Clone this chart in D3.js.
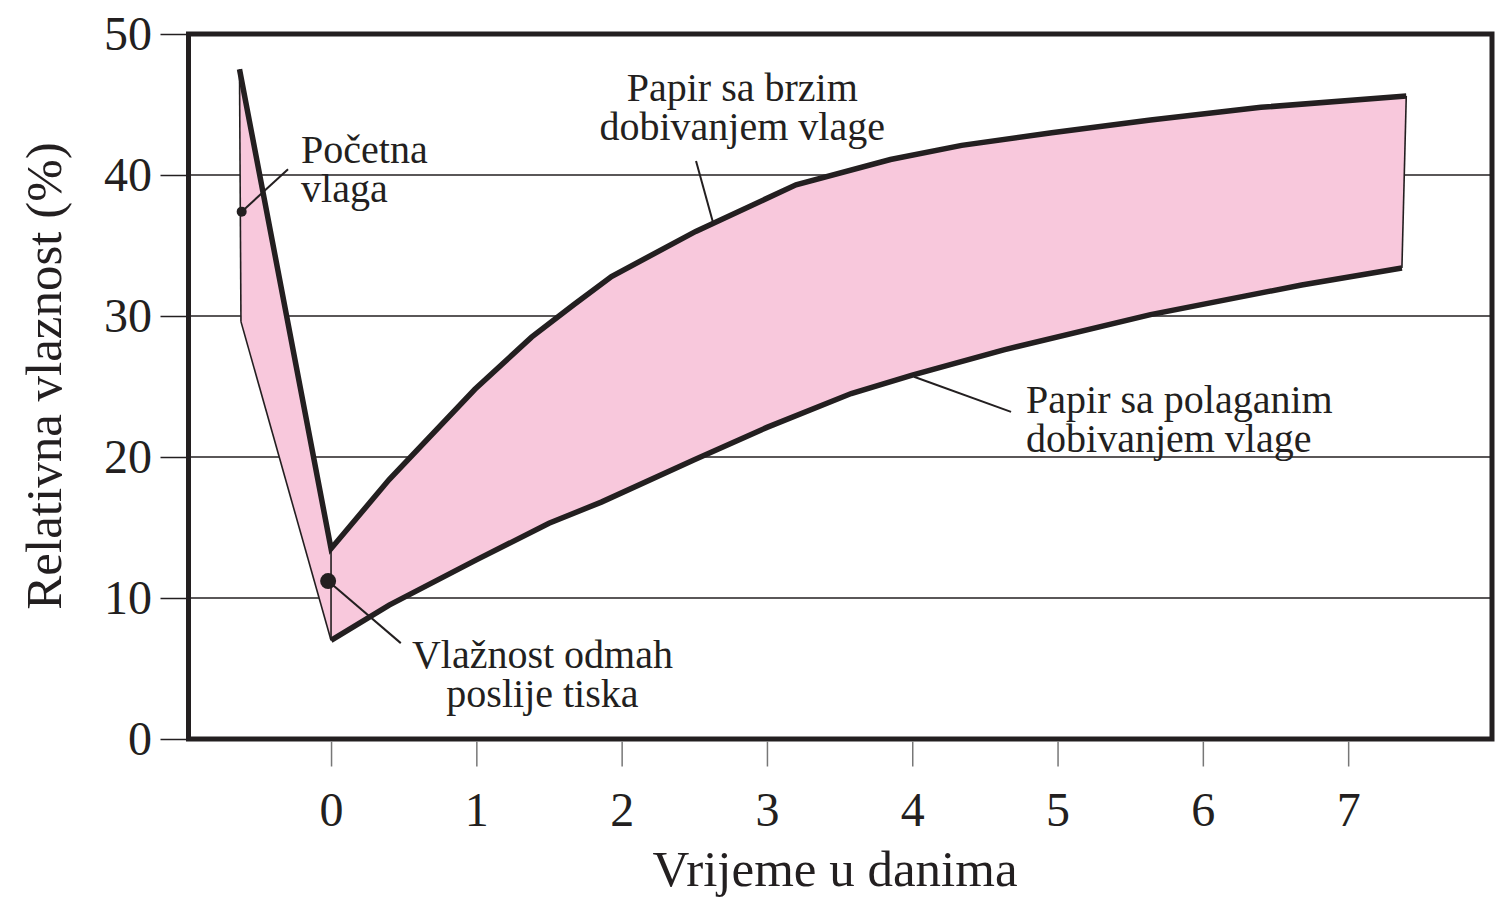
<!DOCTYPE html>
<html>
<head>
<meta charset="utf-8">
<script src="https://cdn.jsdelivr.net/npm/d3@7"></script>
<style>
  body { margin: 0; background: #fff; }
  text { font-family: 'Liberation Serif', 'Times New Roman', serif; fill: #231f20; }
</style>
</head>
<body>
<script>
// Papir sa brzim dobivanjem vlage (upper edge of band) - [day, %]
const fastPaper = [
  [-0.63, 47.5], [0, 13.5], [0.4, 18.4], [0.99, 24.8], [1.38, 28.5],
  [1.67, 30.8], [1.93, 32.8], [2.51, 36.0], [3.2, 39.3], [3.85, 41.1],
  [4.34, 42.1], [4.96, 43.0], [5.64, 43.9], [6.4, 44.8], [7.4, 45.6],
];

// Papir sa polaganim dobivanjem vlage (lower edge of band)
const slowPaper = [
  [-0.62, 29.6], [0, 7.0], [0.4, 9.5], [1.0, 12.7], [1.5, 15.3],
  [1.86, 16.8], [2.5, 19.8], [3.0, 22.1], [3.58, 24.5], [4.0, 25.8],
  [4.63, 27.6], [5.64, 30.1], [6.68, 32.2], [7.37, 33.4],
];

// marked points
const initialMoisture = [-0.615, 37.4];
const afterPrint = [-0.02, 11.2];

// tick values
const xTicks = [0, 1, 2, 3, 4, 5, 6, 7];
const yTicks = [0, 10, 20, 30, 40, 50];
const gridValues = [10, 20, 30, 40];

// annotations: leader line [from, to] and text lines
const notes = [
  { from: [-0.615, 37.4], to: [-0.296, 40.4], anchor: 'start', at: [-0.206, 40.85], lines: ['Početna', 'vlaga'] },
  { from: [2.627, 36.7], to: [2.512, 41.0], anchor: 'middle', at: [2.83, 45.23], lines: ['Papir sa brzim', 'dobivanjem vlage'] },
  { from: [4.012, 25.69], to: [4.68, 23.2], anchor: 'start', at: [4.783, 23.1], lines: ['Papir sa polaganim', 'dobivanjem vlage'] },
  { from: [-0.02, 11.2], to: [0.48, 6.8], anchor: 'middle', at: [1.455, 5.02], lines: ['Vlažnost odmah', 'poslije tiska'] },
];

const width = 1507;
const height = 900;
const ink = '#231f20';

const xScale = d3.scaleLinear().domain([-0.981, 7.99]).range([188.5, 1492]);
const yScale = d3.scaleLinear().domain([0, 50]).range([739, 34]);

const svg = d3.select('body').append('svg')
  .attr('width', width)
  .attr('height', height);

const line = d3.line()
  .x(d => xScale(d[0]))
  .y(d => yScale(d[1]));

// gridlines
svg.append('g')
  .selectAll('line')
  .data(gridValues)
  .join('line')
  .attr('x1', xScale.range()[0])
  .attr('x2', xScale.range()[1])
  .attr('y1', d => yScale(d))
  .attr('y2', d => yScale(d))
  .attr('stroke', ink)
  .attr('stroke-width', 1.3);

// pink band
const band = fastPaper.concat(slowPaper.slice().reverse());
svg.append('path')
  .datum(band)
  .attr('d', d => line(d) + 'Z')
  .attr('fill', '#f8c8dc')
  .attr('stroke', 'none');

// thin outlines
const thinEdges = [
  [fastPaper[0], slowPaper[0]],
  [slowPaper[0], slowPaper[1]],
  [fastPaper[1], slowPaper[1]],
  [fastPaper[fastPaper.length - 1], slowPaper[slowPaper.length - 1]],
];
svg.append('g')
  .selectAll('path')
  .data(thinEdges)
  .join('path')
  .attr('d', line)
  .attr('fill', 'none')
  .attr('stroke', ink)
  .attr('stroke-width', 1.6);

// thick curves
svg.append('path')
  .datum(fastPaper)
  .attr('d', line)
  .attr('fill', 'none')
  .attr('stroke', ink)
  .attr('stroke-width', 5.5);

svg.append('path')
  .datum(slowPaper.slice(1))
  .attr('d', line)
  .attr('fill', 'none')
  .attr('stroke', ink)
  .attr('stroke-width', 5.5);

// leader lines
svg.append('g')
  .selectAll('line')
  .data(notes)
  .join('line')
  .attr('x1', d => xScale(d.from[0]))
  .attr('y1', d => yScale(d.from[1]))
  .attr('x2', d => xScale(d.to[0]))
  .attr('y2', d => yScale(d.to[1]))
  .attr('stroke', ink)
  .attr('stroke-width', 2);

// dots
svg.append('circle')
  .attr('cx', xScale(initialMoisture[0]))
  .attr('cy', yScale(initialMoisture[1]))
  .attr('r', 5)
  .attr('fill', ink);

svg.append('circle')
  .attr('cx', xScale(afterPrint[0]))
  .attr('cy', yScale(afterPrint[1]))
  .attr('r', 8)
  .attr('fill', ink);

// annotation text, one text per line
notes.forEach(n => {
  n.lines.forEach((s, i) => {
    svg.append('text')
      .attr('x', xScale(n.at[0]))
      .attr('y', yScale(n.at[1]) + i * 39)
      .attr('text-anchor', n.anchor)
      .style('font-size', '40px')
      .text(s);
  });
});

// frame
svg.append('rect')
  .attr('x', xScale.range()[0])
  .attr('y', yScale.range()[1])
  .attr('width', xScale.range()[1] - xScale.range()[0])
  .attr('height', yScale.range()[0] - yScale.range()[1])
  .attr('fill', 'none')
  .attr('stroke', ink)
  .attr('stroke-width', 5);

// axes
const yAxis = d3.axisLeft(yScale).tickValues(yTicks).tickSize(28).tickPadding(8.5);
const gy = svg.append('g')
  .attr('transform', `translate(${xScale.range()[0]},0)`)
  .call(yAxis);
gy.select('.domain').remove();
gy.selectAll('.tick line').attr('stroke', ink).attr('stroke-width', 1.5);
gy.selectAll('.tick text')
  .attr('fill', ink)
  .style('font-family', "'Liberation Serif', serif")
  .style('font-size', '48px');

const xAxis = d3.axisBottom(xScale).tickValues(xTicks).tickSize(25).tickPadding(25.5);
const gx = svg.append('g')
  .attr('transform', `translate(0,${yScale.range()[0] + 2.5})`)
  .call(xAxis);
gx.select('.domain').remove();
gx.selectAll('.tick line').attr('stroke', '#777').attr('stroke-width', 1.5);
gx.selectAll('.tick text')
  .attr('fill', ink)
  .style('font-family', "'Liberation Serif', serif")
  .style('font-size', '48px');

// axis titles
svg.append('text')
  .attr('text-anchor', 'middle')
  .attr('x', 835)
  .attr('y', 886)
  .style('font-size', '51px')
  .text('Vrijeme u danima');

svg.append('text')
  .attr('text-anchor', 'middle')
  .attr('transform', 'translate(61,376) rotate(-90)')
  .style('font-size', '51px')
  .text('Relativna vlaznost (%)');
</script>
</body>
</html>
